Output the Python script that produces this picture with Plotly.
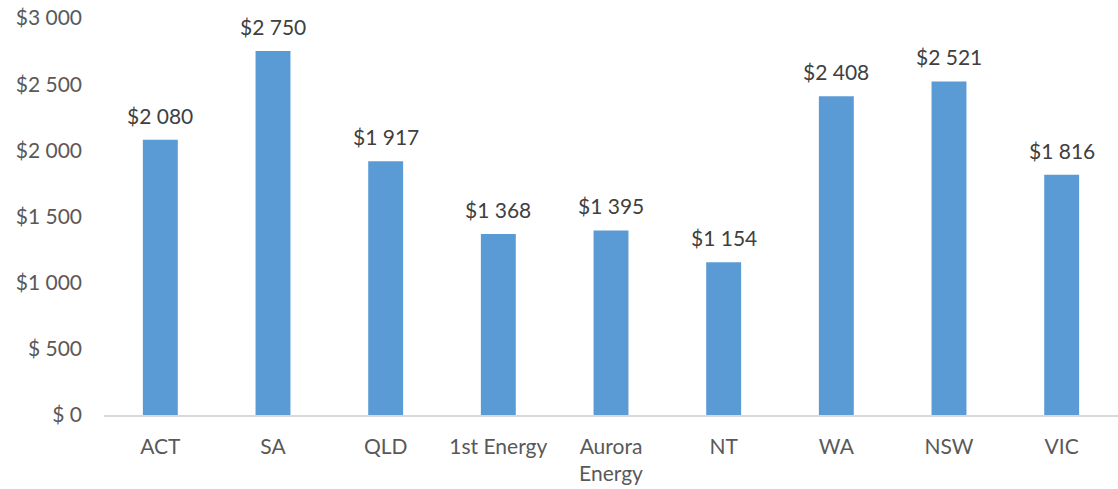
import plotly.graph_objects as go

categories = ["ACT", "SA", "QLD", "1st Energy", "Aurora<br>Energy", "NT", "WA", "NSW", "VIC"]
values = [2080, 2750, 1917, 1368, 1395, 1154, 2408, 2521, 1816]
tick_vals = [0, 500, 1000, 1500, 2000, 2500, 3000]
tick_text = ["$ 0", "$ 500", "$1 000", "$1 500", "$2 000", "$2 500", "$3 000"]

def fmt(v):
    s = f"{v:,}".replace(",", " ")
    return "$" + s

FONT = "Lato"
FS = 21

fig = go.Figure(go.Bar(
    x=categories, y=values,
    marker=dict(color="#5B9BD5", line=dict(width=0)),
    cliponaxis=False,
))

for c, v in zip(categories, values):
    fig.add_annotation(x=c, y=v, text=fmt(v), showarrow=False, yanchor="bottom",
                       yshift=10, font=dict(family=FONT, size=FS, color="#404040"))

fig.update_layout(
    width=1118, height=489,
    margin=dict(l=104, r=0, t=18, b=74),
    paper_bgcolor="white", plot_bgcolor="white",
    font=dict(family=FONT, size=FS, color="#595959"),
    bargap=0.69,
    showlegend=False,
    xaxis=dict(showline=True, linecolor="#D9D9D9", linewidth=1.5, ticks="", showgrid=False,
               automargin=False, ticklabelstandoff=12,
               tickfont=dict(family=FONT, size=FS, color="#595959")),
    yaxis=dict(range=[0, 3000], tickvals=tick_vals, ticktext=tick_text, showgrid=False,
               zeroline=False, showline=False, ticks="", ticklabelstandoff=21,
               ticklabeloverflow="allow",
               automargin=False, tickfont=dict(family=FONT, size=FS, color="#595959")),
)

fig.write_html("out.html", config={"displayModeBar": False},
               post_script="document.body.style.margin='0';")
